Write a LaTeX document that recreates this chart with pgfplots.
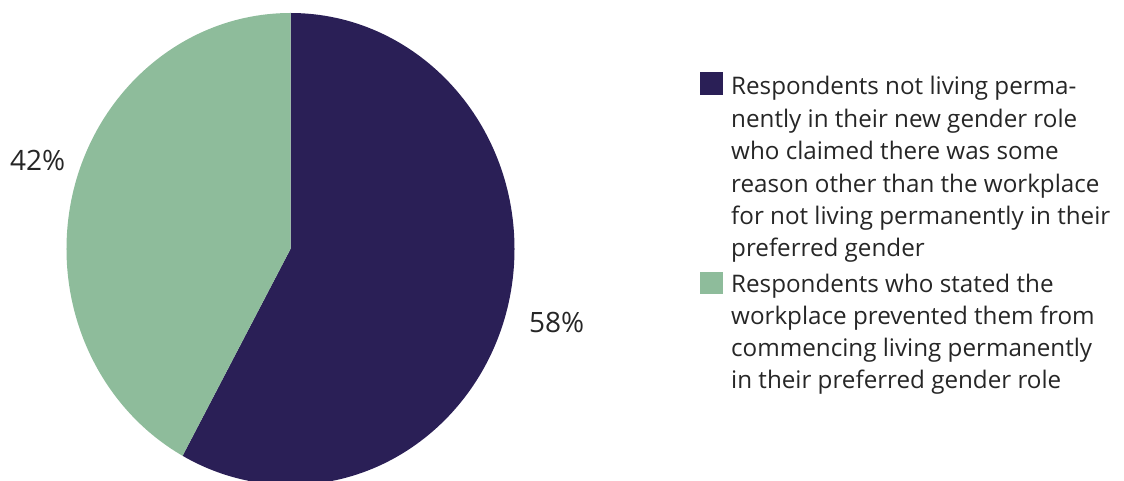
\documentclass[border=0pt]{standalone}
\usepackage{pgfplots}
\pgfplotsset{compat=1.18}
\usepackage{pgfplotstable}
\usepackage{fontspec}
\setmainfont{Open Sans}
\definecolor{navy}{RGB}{42,31,86}
\definecolor{sage}{RGB}{142,188,155}
\definecolor{txt}{RGB}{38,38,38}
\pgfplotstableread{
label value
A 58
B 42
}\piedata
\begin{document}
\begin{tikzpicture}
\useasboundingbox (0,0) rectangle (1124bp,481bp);
\pgfplotstablegetelem{0}{value}\of\piedata \global\let\va\pgfplotsretval
\pgfplotstablegetelem{1}{value}\of\piedata \global\let\vb\pgfplotsretval
\pgfmathsetmacro\angA{90-3.6*\va}
\pgfmathsetmacro\angB{\angA+360}
\begin{axis}[width=1124bp,height=481bp,scale only axis,
  xmin=0,xmax=1124,ymin=0,ymax=481,hide axis,clip=true]
\fill[navy] (axis cs:290.5,232) -- (axis cs:290.5,468)
  arc[start angle=90,end angle=\angA,x radius=224bp,y radius=236bp] -- cycle;
\fill[sage] (axis cs:290.5,232) -- (axis cs:290.5,468)
  arc[start angle=90,end angle=\angB,x radius=224bp,y radius=236bp] -- cycle;
\node[anchor=base west,inner sep=0pt,txt,font=\fontsize{28bp}{32bp}\selectfont] at (axis cs:10,310) {\vb\%};
\node[anchor=base west,inner sep=0pt,txt,font=\fontsize{28bp}{32bp}\selectfont] at (axis cs:529,148) {\va\%};
\fill[navy] (axis cs:700,386) rectangle (axis cs:723,409);
\fill[sage] (axis cs:700,187) rectangle (axis cs:723,209);
\end{axis}
\begin{scope}[every node/.style={anchor=base west,inner sep=0pt,text=txt,font=\fontsize{24.2bp}{30bp}\selectfont}]
\node at (731bp,386bp) {Respondents not living perma-};
\node at (731bp,353.6bp) {nently in their new gender role};
\node at (731bp,321.2bp) {who claimed there was some};
\node at (731bp,288.8bp) {reason other than the workplace};
\node at (731bp,256.4bp) {for not living permanently in their};
\node at (731bp,224bp) {preferred gender};
\node at (731bp,188bp) {Respondents who stated the};
\node at (731bp,156bp) {workplace prevented them from};
\node at (731bp,124bp) {commencing living permanently};
\node at (731bp,92bp) {in their preferred gender role};
\end{scope}
\end{tikzpicture}
\end{document}
